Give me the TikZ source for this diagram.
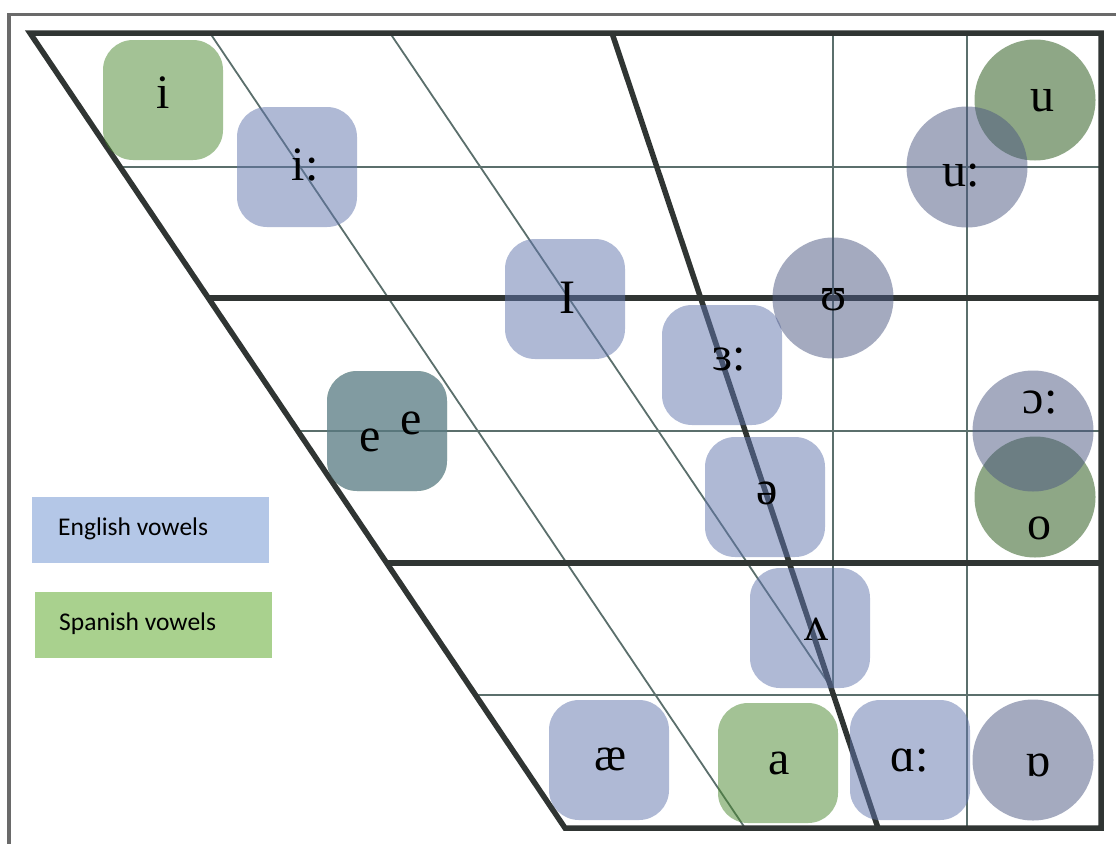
\documentclass[tikz,border=0pt]{standalone}
\usepackage{fontspec}
\setmainfont{Liberation Serif}
\newfontfamily\legendfont{Carlito}
\definecolor{thickc}{HTML}{303533}
\definecolor{thinc}{HTML}{5B6F6C}
\definecolor{framec}{HTML}{6A6A6A}
\definecolor{engsq}{HTML}{6175AD}
\definecolor{spasq}{HTML}{49872D}
\definecolor{engci}{HTML}{4B5781}
\definecolor{spaci}{HTML}{1F510F}
\definecolor{engleg}{HTML}{B4C7E7}
\definecolor{spaleg}{HTML}{A9D18E}
\begin{document}
\begin{tikzpicture}[x=1pt,y=-1pt,
  thickline/.style={line width=5.5pt, draw=thickc},
  thinline/.style={line width=1.8pt, draw=thinc},
  sq/.style={rectangle, rounded corners=30pt, minimum size=120pt, inner sep=0pt, fill opacity=0.5},
  ci/.style={circle, minimum size=121pt, inner sep=0pt, fill opacity=0.5},
  engsquare/.style={sq, fill=engsq},
  spasquare/.style={sq, fill=spasq},
  engcircle/.style={ci, fill=engci},
  spacircle/.style={ci, fill=spaci},
  ipa/.style={inner sep=0pt, font=\fontsize{48}{52}\selectfont},
  legbox/.style={rectangle, inner sep=0pt, minimum width=237pt, minimum height=66pt},
  legtext/.style={inner sep=0pt, anchor=base west, font=\legendfont\fontsize{25.5}{30}\selectfont}]
\useasboundingbox (0,0) rectangle (1116,844);
\fill[white] (0,0) rectangle (1116,844);
% outer frame
\draw[line width=3.5pt, draw=framec] (1116,14.5) -- (9,14.5) -- (9,844);
% chart corners
\coordinate (tl) at (30,33);
\coordinate (tr) at (1101,33);
\coordinate (br) at (1101,828);
\coordinate (bl) at (565,828);
% horizontal grid lines (left ends on the slanted front edge)
\coordinate (h1) at (120.2,167);  \coordinate (h1r) at (1101,167);
\coordinate (h2) at (208.3,298);  \coordinate (h2r) at (1101,298);
\coordinate (h3) at (297.8,431);  \coordinate (h3r) at (1101,431);
\coordinate (h4) at (386.6,563);  \coordinate (h4r) at (1101,563);
\coordinate (h5) at (475.5,695);  \coordinate (h5r) at (1101,695);
\draw[thinline] (h1) -- (h1r);
\draw[thinline] (h3) -- (h3r);
\draw[thinline] (h5) -- (h5r);
% slanted thin lines
\coordinate (s1t) at (210,33);  \coordinate (s1b) at (745,828);
\coordinate (s2t) at (390,33);  \coordinate (meet) at (833,690);
\draw[thinline] (s1t) -- (s1b);
\draw[thinline] (s2t) -- (meet);
% vertical thin lines
\coordinate (v1t) at (833,33);
\coordinate (v2t) at (967,33);  \coordinate (v2b) at (967,828);
\draw[thinline] (v1t) -- (meet);
\draw[thinline] (v2t) -- (v2b);
% thick lines
\draw[thickline] (h2) -- (h2r);
\draw[thickline] (h4) -- (h4r);
\coordinate (ct) at (612,33);  \coordinate (cb) at (878,828);
\draw[thickline] (ct) -- (cb);
\draw[thickline, line join=miter] (bl) -- (tl) -- (tr) -- (br) -- cycle;

% vowel shapes
\node[spasquare] (sqi) at (163,100) {};
\node[engsquare] (sqii) at (297,167) {};
\node[engsquare] (sqI) at (565,299) {};
\node[engsquare] (sq3) at (722,365) {};
\node[engsquare] (sqschwa) at (765,497) {};
\node[engsquare] (sqwedge) at (810,628) {};
\node[spasquare] (sqes) at (387,431) {};
\node[engsquare] (sqee) at (387,431) {};
\node[engsquare] (sqae) at (609,760) {};
\node[spasquare] (sqa) at (778,763) {};
\node[engsquare] (sqaa) at (910,760) {};
\node[spacircle] (ciu) at (1035,100) {};
\node[engcircle] (ciuu) at (967,167) {};
\node[engcircle] (ciU) at (833,298) {};
\node[spacircle] (cio) at (1035,497) {};
\node[engcircle] (cioo) at (1033,431) {};
\node[engcircle] (cioh) at (1033,760) {};

% vowel symbols
\node[ipa] (ti) at (163,93) {i};
\node[ipa] (tii) at (305,165) {i:};
\node[ipa] (tI) at (567,298) {I};
\node[ipa] (t3) at (729,360) {ɜ:};
\node[ipa] (tschwa) at (767,493) {ə};
\node[ipa] (twedge) at (816,629) {ʌ};
\node[ipa] (te1) at (370,440) {e};
\node[ipa] (te2) at (411,423) {e};
\node[ipa] (tae) at (610,759) {æ};
\node[ipa] (ta) at (779,763) {a};
\node[ipa] (taa) at (910,761) {ɑ:};
\node[ipa] (toh) at (1038,765) {ɒ};
\node[ipa] (tu) at (1042,101) {u};
\node[ipa] (tuu) at (961,176) {u:};
\node[ipa] (tU) at (834,300) {ʊ};
\node[ipa] (too) at (1040,403) {ɔ:};
\node[ipa] (to) at (1039,528) {o};

% legend
\node[legbox, fill=engleg] (legE) at (150.5,530) {};
\node[legbox, fill=spaleg] (legS) at (153,625) {};
\node[legtext] (legEt) at (58,535) {English vowels};
\node[legtext] (legSt) at (59,630) {Spanish vowels};
\end{tikzpicture}
\end{document}
